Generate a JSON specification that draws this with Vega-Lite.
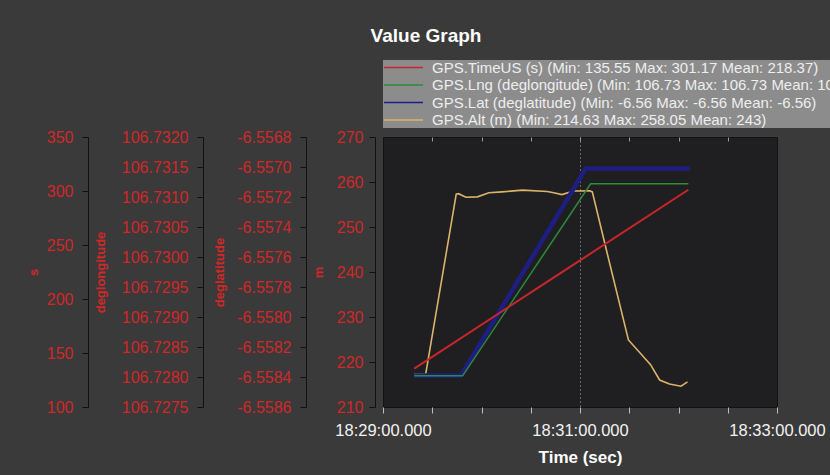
{
  "$schema": "https://vega.github.io/schema/vega-lite/v6.json",
  "width": 394,
  "height": 270,
  "autosize": {"type": "none"},
  "padding": {"left": 383, "top": 137, "right": 53, "bottom": 68},
  "background": "#3a3a3a",
  "title": {
    "text": "Value Graph",
    "color": "#ffffff",
    "font": "Liberation Sans",
    "fontSize": 19,
    "fontWeight": "bold",
    "anchor": "middle",
    "frame": "group",
    "dx": -154,
    "offset": 14
  },
  "data": {
    "values": [
      {"series": "TimeUS", "t": "2024-01-01T18:29:19.000", "v": 135.55},
      {"series": "TimeUS", "t": "2024-01-01T18:30:42.500", "v": 218.37},
      {"series": "TimeUS", "t": "2024-01-01T18:32:06.000", "v": 301.17},
      {"series": "Lng", "t": "2024-01-01T18:29:19.000", "v": 106.72802},
      {"series": "Lng", "t": "2024-01-01T18:29:48.500", "v": 106.72802},
      {"series": "Lng", "t": "2024-01-01T18:31:06.500", "v": 106.73122},
      {"series": "Lng", "t": "2024-01-01T18:32:06.000", "v": 106.73122},
      {"series": "Lat", "t": "2024-01-01T18:29:19.000", "v": -6.55839},
      {"series": "Lat", "t": "2024-01-01T18:29:47.500", "v": -6.55839},
      {"series": "Lat", "t": "2024-01-01T18:31:03.500", "v": -6.55701},
      {"series": "Lat", "t": "2024-01-01T18:32:07.000", "v": -6.55701},
      {"series": "Alt", "t": "2024-01-01T18:29:19.000", "v": 217.3},
      {"series": "Alt", "t": "2024-01-01T18:29:26.000", "v": 217.3},
      {"series": "Alt", "t": "2024-01-01T18:29:44.600", "v": 257.3},
      {"series": "Alt", "t": "2024-01-01T18:29:46.000", "v": 257.4},
      {"series": "Alt", "t": "2024-01-01T18:29:50.500", "v": 256.6},
      {"series": "Alt", "t": "2024-01-01T18:29:57.500", "v": 256.7},
      {"series": "Alt", "t": "2024-01-01T18:30:04.500", "v": 257.6},
      {"series": "Alt", "t": "2024-01-01T18:30:12.500", "v": 257.8},
      {"series": "Alt", "t": "2024-01-01T18:30:25.000", "v": 258.2},
      {"series": "Alt", "t": "2024-01-01T18:30:40.000", "v": 257.9},
      {"series": "Alt", "t": "2024-01-01T18:30:44.000", "v": 257.6},
      {"series": "Alt", "t": "2024-01-01T18:30:49.000", "v": 257.2},
      {"series": "Alt", "t": "2024-01-01T18:30:56.000", "v": 258.0},
      {"series": "Alt", "t": "2024-01-01T18:31:06.000", "v": 258.05},
      {"series": "Alt", "t": "2024-01-01T18:31:07.500", "v": 257.8},
      {"series": "Alt", "t": "2024-01-01T18:31:16.000", "v": 245.0},
      {"series": "Alt", "t": "2024-01-01T18:31:29.500", "v": 224.9},
      {"series": "Alt", "t": "2024-01-01T18:31:43.000", "v": 219.4},
      {"series": "Alt", "t": "2024-01-01T18:31:48.500", "v": 216.0},
      {"series": "Alt", "t": "2024-01-01T18:31:54.500", "v": 215.1},
      {"series": "Alt", "t": "2024-01-01T18:32:01.500", "v": 214.63},
      {"series": "Alt", "t": "2024-01-01T18:32:05.500", "v": 215.6}
    ]
  },
  "layer": [
    {
      "transform": [{"filter": "datum.series == 'Alt'"}],
      "mark": {"type": "line", "strokeWidth": 1.6, "clip": true},
      "encoding": {
        "x": {
          "field": "t", "type": "temporal",
          "scale": {"domain": [{"year": 2024, "month": 1, "date": 1, "hours": 18, "minutes": 29}, {"year": 2024, "month": 1, "date": 1, "hours": 18, "minutes": 33}]},
          "axis": {
            "orient": "top", "labels": false, "title": null, "domain": false, "grid": false,
            "offset": -4, "tickSize": 4, "tickColor": "#9a9a9a",
            "values": [
              {"year": 2024, "month": 1, "date": 1, "hours": 18, "minutes": 29, "seconds": 30},
              {"year": 2024, "month": 1, "date": 1, "hours": 18, "minutes": 30, "seconds": 0},
              {"year": 2024, "month": 1, "date": 1, "hours": 18, "minutes": 30, "seconds": 30},
              {"year": 2024, "month": 1, "date": 1, "hours": 18, "minutes": 31, "seconds": 0},
              {"year": 2024, "month": 1, "date": 1, "hours": 18, "minutes": 31, "seconds": 30},
              {"year": 2024, "month": 1, "date": 1, "hours": 18, "minutes": 32, "seconds": 0},
              {"year": 2024, "month": 1, "date": 1, "hours": 18, "minutes": 32, "seconds": 30}
            ]
          }
        },
        "y": {
          "field": "v", "type": "quantitative",
          "scale": {"domain": [210, 270], "nice": false, "zero": false},
          "axis": {"orient": "left", "offset": 8, "title": "m", "values": [210, 220, 230, 240, 250, 260, 270], "format": "d", "labelPadding": 6, "titlePadding": 11}
        },
        "color": {"field": "series", "type": "nominal", "scale": {"domain": ["TimeUS", "Lng", "Lat", "Alt"], "range": ["#c9262c", "#2e8b3a", "#1e1e82", "#dcb36a"]}}
      }
    },
    {
      "transform": [{"filter": "datum.series == 'Lat'"}],
      "mark": {"type": "line", "strokeWidth": 4.5, "clip": true},
      "encoding": {
        "x": {"field": "t", "type": "temporal", "axis": null},
        "y": {
          "field": "v", "type": "quantitative",
          "scale": {"domain": [-6.5586, -6.5568], "nice": false, "zero": false},
          "axis": {"orient": "left", "offset": 77, "title": "deglatitude", "values": [-6.5586, -6.5584, -6.5582, -6.558, -6.5578, -6.5576, -6.5574, -6.5572, -6.557, -6.5568], "labelExpr": "'-' + format(-datum.value, '.4f')", "titlePadding": 10}
        },
        "color": {"field": "series", "type": "nominal", "scale": {"domain": ["TimeUS", "Lng", "Lat", "Alt"], "range": ["#c9262c", "#2e8b3a", "#1e1e82", "#dcb36a"]}}
      }
    },
    {
      "transform": [{"filter": "datum.series == 'Lng'"}],
      "mark": {"type": "line", "strokeWidth": 1.5, "clip": true},
      "encoding": {
        "x": {"field": "t", "type": "temporal", "axis": null},
        "y": {
          "field": "v", "type": "quantitative",
          "scale": {"domain": [106.7275, 106.732], "nice": false, "zero": false},
          "axis": {"orient": "left", "offset": 180, "title": "deglongitude", "values": [106.7275, 106.728, 106.7285, 106.729, 106.7295, 106.73, 106.7305, 106.731, 106.7315, 106.732], "format": ".4f", "titlePadding": 14}
        },
        "color": {"field": "series", "type": "nominal", "scale": {"domain": ["TimeUS", "Lng", "Lat", "Alt"], "range": ["#c9262c", "#2e8b3a", "#1e1e82", "#dcb36a"]}}
      }
    },
    {
      "transform": [{"filter": "datum.series == 'TimeUS'"}],
      "mark": {"type": "line", "strokeWidth": 2, "clip": true},
      "encoding": {
        "x": {
          "field": "t", "type": "temporal",
          "axis": {
            "orient": "bottom",
            "title": "Time (sec)",
            "values": [
              {"year": 2024, "month": 1, "date": 1, "hours": 18, "minutes": 29, "seconds": 0},
              {"year": 2024, "month": 1, "date": 1, "hours": 18, "minutes": 29, "seconds": 30},
              {"year": 2024, "month": 1, "date": 1, "hours": 18, "minutes": 30, "seconds": 0},
              {"year": 2024, "month": 1, "date": 1, "hours": 18, "minutes": 30, "seconds": 30},
              {"year": 2024, "month": 1, "date": 1, "hours": 18, "minutes": 31, "seconds": 0},
              {"year": 2024, "month": 1, "date": 1, "hours": 18, "minutes": 31, "seconds": 30},
              {"year": 2024, "month": 1, "date": 1, "hours": 18, "minutes": 32, "seconds": 0},
              {"year": 2024, "month": 1, "date": 1, "hours": 18, "minutes": 32, "seconds": 30},
              {"year": 2024, "month": 1, "date": 1, "hours": 18, "minutes": 33, "seconds": 0}
            ],
            "labelExpr": "minutes(datum.value) % 2 == 1 && seconds(datum.value) == 0 ? timeFormat(datum.value, '%H:%M:%S.%L') : ''",
            "labelFlush": false,
            "labelBound": false,
            "labelOverlap": false,
            "labelColor": "#f2f2f2",
            "labelFont": "Liberation Sans",
            "labelFontSize": 16.5,
            "labelPadding": 9,
            "tickColor": "#bdbdbd",
            "tickSize": 6,
            "domain": false,
            "grid": true,
            "gridColor": "#b0b0b0",
            "gridDash": [1, 3],
            "gridOpacity": {"condition": {"test": "minutes(datum.value) == 31 && seconds(datum.value) == 0", "value": 1}, "value": 0},
            "titleColor": "#ffffff",
            "titleFont": "Liberation Sans",
            "titleFontSize": 17,
            "titleFontWeight": "bold",
            "titlePadding": 11
          }
        },
        "y": {
          "field": "v", "type": "quantitative",
          "scale": {"domain": [100, 350], "nice": false, "zero": false},
          "axis": {"orient": "left", "offset": 295, "title": "s", "values": [100, 150, 200, 250, 300, 350], "format": "d", "titlePadding": 6}
        },
        "color": {"field": "series", "type": "nominal", "scale": {"domain": ["TimeUS", "Lng", "Lat", "Alt"], "range": ["#c9262c", "#2e8b3a", "#1e1e82", "#dcb36a"]},
          "legend": {
            "orient": "none", "legendX": 0, "legendY": -77,
            "title": null,
            "fillColor": "#8c8c8c",
            "padding": 0,
            "rowPadding": 1.5,
            "symbolType": "M-1,0H5",
            "symbolSize": 169,
            "symbolStrokeWidth": 1.5,
            "labelOffset": 34,
            "labelColor": "#eeeeee",
            "labelFont": "Liberation Sans",
            "labelFontSize": 15,
            "labelLimit": 900,
            "labelExpr": "datum.label == 'TimeUS' ? 'GPS.TimeUS (s) (Min: 135.55 Max: 301.17 Mean: 218.37)' : datum.label == 'Lng' ? 'GPS.Lng (deglongitude) (Min: 106.73 Max: 106.73 Mean: 106.73)' : datum.label == 'Lat' ? 'GPS.Lat (deglatitude) (Min: -6.56 Max: -6.56 Mean: -6.56)' : 'GPS.Alt (m) (Min: 214.63 Max: 258.05 Mean: 243)'"
          }
        }
      }
    }
  ],
  "resolve": {"scale": {"y": "independent"}, "axis": {"y": "independent", "x": "independent"}},
  "config": {
    "view": {"fill": "#1f1f21", "stroke": "#121212"},
    "axisY": {
      "labelColor": "#d02828",
      "labelFont": "Liberation Sans",
      "labelFontSize": 16,
      "labelPadding": 9,
      "titleColor": "#d02828",
      "titleFont": "Liberation Sans",
      "titleFontSize": 13,
      "titleFontWeight": "bold",
      "domainColor": "#111111",
      "tickColor": "#111111",
      "tickSize": 6,
      "grid": false
    }
  }
}
